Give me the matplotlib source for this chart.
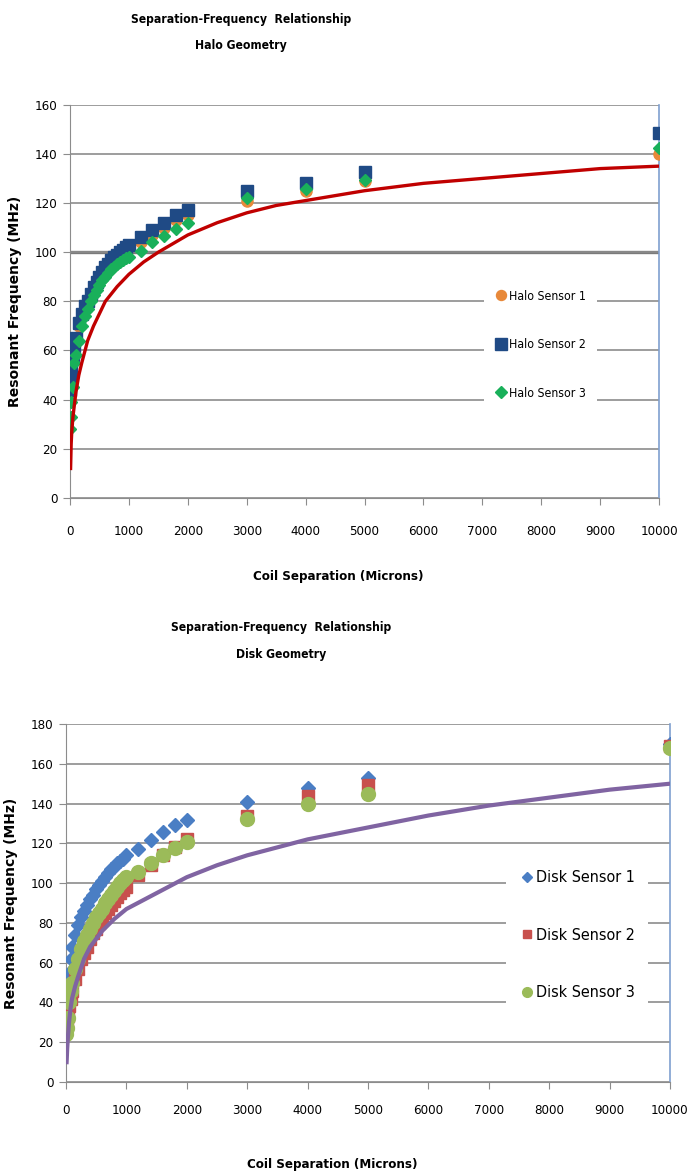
import matplotlib
matplotlib.use('Agg')
import matplotlib.pyplot as plt

plt.rcParams['font.family'] = ['DejaVu Sans']
plt.rcParams['font.stretch'] = 'condensed'

# ---- Halo geometry data ----
halo_x = [0, 10, 25, 50, 75, 100, 150, 200, 250, 300, 350, 400, 450, 500, 550, 600,
          650, 700, 750, 800, 850, 900, 950, 1000, 1200, 1400, 1600, 1800, 2000,
          3000, 4000, 5000, 10000]
halo_s1 = [40, 45, 51, 57, 61, 64, 70, 74, 78, 80, 83, 85, 87, 89, 91, 93,
           94, 96, 97, 98, 99, 100, 101, 102, 104, 107, 110, 113, 115,
           121, 125, 129, 140]
halo_s2 = [44, 48, 53, 58, 62, 65, 71, 75, 78, 80, 83, 86, 88, 90, 92, 94,
           95, 97, 98, 99, 100, 101, 102, 103, 106, 109, 112, 115, 117,
           125, 128, 132.5, 148.5]
halo_s3 = [28, 33, 39, 45, 55, 58, 64, 70, 74, 77, 80, 82.5, 84.5, 86.5, 88.5, 90,
           91.5, 93, 94, 95, 96, 97, 97.5, 98, 100.5, 104, 106.5, 109.5, 112,
           122, 125.5, 129.5, 142.5]
halo_fit_x = [10, 20, 30, 50, 75, 100, 150, 200, 300, 400, 500, 600, 800, 1000, 1250,
              1500, 2000, 2500, 3000, 3500, 4000, 5000, 6000, 7000, 8000, 9000, 10000]
halo_fit_y = [12, 22, 27, 33, 38, 43, 50, 55, 64, 70, 75, 80, 86, 91, 96,
              100, 107, 112, 116, 119, 121, 125, 128, 130, 132, 134, 135]

# ---- Disk geometry data ----
disk_x = halo_x
disk_s1 = [28, 35, 42, 55, 62, 68, 74, 79, 83, 86, 89, 92, 94, 97, 99, 101,
           103, 105, 107, 108, 110, 111, 112, 114, 117, 121.5, 125.5, 129, 132,
           141, 148, 153, 170]
disk_s2 = [28, 30, 33, 38, 42, 46, 52, 57, 62, 65, 68, 72, 75, 77, 80, 82,
           85, 87, 89, 91, 93, 95, 96.5, 98, 104, 109, 114, 118, 122,
           134, 144, 149.5, 169]
disk_s3 = [24, 27, 32, 40, 46, 50, 57, 62, 67, 71, 74, 77, 80, 83, 85, 87,
           90, 92, 94, 96, 98, 100, 101.5, 103, 105.5, 110, 114, 117.5, 120.5,
           132.5, 140, 145, 168]
disk_fit_x = halo_fit_x
disk_fit_y = [10, 17, 22, 30, 37, 42, 48, 53, 62, 68, 72, 76, 82, 87, 91,
              95, 103, 109, 114, 118, 122, 128, 134, 139, 143, 147, 150]

x_ticks = list(range(0, 10001, 1000))

fig = plt.figure(figsize=(6.89, 11.75), dpi=100)


def style_axes(ax, ymax, xpad):
    ax.set_xlim(0, 10000)
    ax.set_ylim(0, ymax)
    ax.set_xticks(x_ticks)
    ax.set_yticks(range(0, ymax + 1, 20))
    ax.grid(axis='y', color='#8c8c8c', lw=1.2, zorder=0)
    ax.set_axisbelow(True)
    ax.spines['top'].set_visible(False)
    ax.spines['left'].set_color('#8c8c8c')
    ax.spines['bottom'].set_color('#8c8c8c')
    ax.spines['right'].set_color('#7f9fcf')
    ax.spines['right'].set_linewidth(1.2)
    ax.tick_params(axis='x', length=5, color='#8c8c8c', pad=xpad, labelsize=9.5)
    ax.tick_params(axis='y', length=5, color='#8c8c8c', pad=4, labelsize=9.5)
    ax.set_ylabel('Resonant Frequency (MHz)', fontstretch='normal', fontweight='bold',
                  fontsize=10, labelpad=9)
    ax.set_xlabel('Coil Separation (Microns)', fontweight='bold', fontsize=9.5)


# Top chart: Halo geometry
ax1 = fig.add_axes([0.1016, 0.5762, 0.855, 0.3347])
style_axes(ax1, 160, 14.5)
ax1.axhline(100, color='#7a7a7a', lw=2.4, zorder=0)
ax1.plot(halo_x, halo_s1, 'o', color='#E8893A', ms=8, label='Halo Sensor 1', zorder=3)
ax1.plot(halo_x, halo_s2, 's', color='#1F4A85', ms=9, label='Halo Sensor 2', zorder=3)
ax1.plot(halo_x, halo_s3, 'D', color='#19B05A', ms=6.5, label='Halo Sensor 3', zorder=3)
ax1.plot(halo_fit_x, halo_fit_y, '-', color='#C00000', lw=2.4, zorder=4)
ax1.xaxis.set_label_coords(0.455, -0.183)
ax1.legend(loc='center left', bbox_to_anchor=(0.693, 0.39), frameon=True,
           facecolor='white', edgecolor='none', framealpha=1, fontsize=8.8,
           labelspacing=2.9, handletextpad=0.1, markerscale=0.9,
           borderpad=0.9, handlelength=1)
fig.text(0.35, 0.983, 'Separation-Frequency  Relationship', ha='center', va='center',
         fontweight='bold', fontsize=8.7)
fig.text(0.35, 0.961, 'Halo Geometry', ha='center', va='center',
         fontweight='bold', fontsize=8.7)

# Bottom chart: Disk geometry
ax2 = fig.add_axes([0.0958, 0.0791, 0.8766, 0.3047])
style_axes(ax2, 180, 11)
ax2.plot(disk_x, disk_s1, 'D', color='#4A7EC4', ms=7.5, label='Disk Sensor 1', zorder=3)
ax2.plot(disk_x, disk_s2, 's', color='#C8504D', ms=9, label='Disk Sensor 2', zorder=3)
ax2.plot(disk_x, disk_s3, 'o', color='#9BBB59', ms=10, label='Disk Sensor 3', zorder=3)
ax2.plot(disk_fit_x, disk_fit_y, '-', color='#8064A2', lw=3, zorder=4)
ax2.xaxis.set_label_coords(0.44, -0.212)
ax2.legend(loc='center left', bbox_to_anchor=(0.715, 0.41), frameon=True,
           facecolor='white', edgecolor='none', framealpha=1, fontsize=11.5,
           labelspacing=2.65, handletextpad=0.1, markerscale=0.7,
           borderpad=0.8, handlelength=1)
fig.text(0.408, 0.466, 'Separation-Frequency  Relationship', ha='center', va='center',
         fontweight='bold', fontsize=8.7)
fig.text(0.408, 0.443, 'Disk Geometry', ha='center', va='center',
         fontweight='bold', fontsize=8.7)

fig.savefig('out.png', dpi=100)
